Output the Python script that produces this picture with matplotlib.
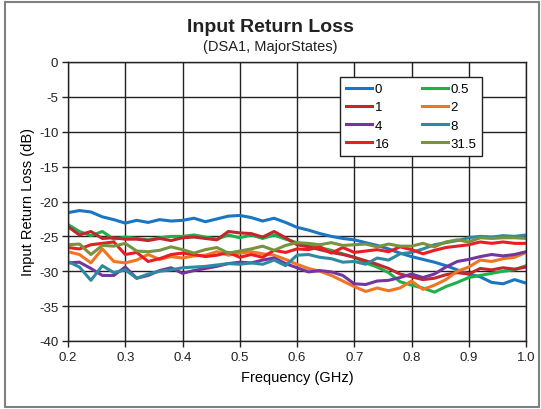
import matplotlib
matplotlib.use("Agg")
import matplotlib.pyplot as plt
from matplotlib.patches import Rectangle

plt.rcParams["font.family"] = ["Liberation Sans", "DejaVu Sans"]
plt.rcParams["axes.unicode_minus"] = False

freq = [0.20, 0.22, 0.24, 0.26, 0.28, 0.30, 0.32, 0.34, 0.36, 0.38,
        0.40, 0.42, 0.44, 0.46, 0.48, 0.50, 0.52, 0.54, 0.56, 0.58,
        0.60, 0.62, 0.64, 0.66, 0.68, 0.70, 0.72, 0.74, 0.76, 0.78,
        0.80, 0.82, 0.84, 0.86, 0.88, 0.90, 0.92, 0.94, 0.96, 0.98, 1.00]

s_0 = [-21.6, -21.3, -21.5, -22.2, -22.6, -23.1, -22.7, -23.0, -22.6, -22.8,
       -22.7, -22.4, -22.9, -22.5, -22.1, -22.0, -22.3, -22.8, -22.4, -23.0,
       -23.7, -24.1, -24.6, -25.0, -25.3, -25.5, -25.9, -26.3, -26.8, -27.4,
       -27.9, -28.3, -28.7, -29.2, -29.8, -30.4, -30.8, -31.6, -31.8, -31.2, -31.7]
s_05 = [-23.3, -24.3, -24.9, -24.3, -25.4, -25.1, -25.3, -25.5, -25.2, -25.0,
        -25.0, -24.8, -25.1, -25.4, -24.8, -25.2, -24.8, -25.3, -24.8, -25.4,
        -25.9, -26.3, -26.6, -27.0, -27.5, -28.0, -28.8, -29.4, -30.2, -31.5,
        -32.0, -32.4, -33.0, -32.2, -31.6, -30.9, -30.6, -30.3, -30.0, -29.8, -29.2]
s_1 = [-23.6, -24.8, -24.3, -25.3, -25.2, -25.4, -25.4, -25.6, -25.3, -25.6,
       -25.2, -25.1, -25.3, -25.5, -24.3, -24.5, -24.6, -25.1, -24.3, -25.2,
       -26.2, -26.5, -26.9, -27.3, -27.6, -28.0, -28.5, -29.0, -29.6, -30.4,
       -30.8, -31.2, -31.0, -30.5, -30.2, -30.4, -29.6, -29.8, -29.5, -29.7, -29.4]
s_2 = [-27.2, -27.6, -28.8, -26.8, -28.6, -28.8, -28.4, -27.6, -28.3, -27.9,
       -28.1, -27.8, -27.7, -27.2, -27.7, -27.4, -27.2, -27.5, -27.7, -28.3,
       -29.0, -29.6, -30.0, -30.6, -31.4, -32.2, -32.9, -32.4, -32.8, -32.4,
       -31.4, -32.6, -32.0, -31.2, -30.0, -29.4, -28.4, -28.6, -28.2, -28.0, -27.3]
s_4 = [-28.8, -28.7, -29.6, -30.6, -30.6, -29.4, -31.0, -30.6, -29.9, -29.5,
       -30.3, -29.9, -29.6, -29.3, -28.9, -28.7, -28.8, -28.4, -28.1, -28.9,
       -29.5, -30.1, -29.9, -30.1, -30.6, -31.8, -31.9, -31.4, -31.3, -30.9,
       -30.4, -30.9, -30.4, -29.4, -28.6, -28.3, -27.9, -27.6, -27.8, -27.6, -27.2]
s_8 = [-28.6, -29.4, -31.3, -29.2, -30.2, -29.8, -31.0, -30.4, -30.0, -29.8,
       -29.5, -29.4, -29.3, -29.1, -28.9, -29.0, -28.8, -29.0, -28.4, -29.2,
       -27.7, -27.6, -28.0, -28.2, -28.7, -28.6, -29.0, -28.1, -28.4, -27.5,
       -27.3, -26.8, -26.2, -25.9, -25.6, -25.2, -25.0, -25.1, -24.9, -25.0, -24.8]
s_16 = [-26.6, -26.8, -26.2, -26.0, -25.8, -27.6, -27.3, -28.6, -28.2, -27.6,
        -27.4, -27.6, -27.9, -27.7, -27.3, -28.0, -27.6, -28.0, -27.0, -27.3,
        -26.8, -26.9, -26.5, -27.4, -26.6, -27.3, -27.1, -26.9, -27.2, -26.5,
        -26.9, -27.5, -27.0, -26.6, -26.4, -26.2, -25.8, -26.0, -25.8, -26.0, -26.0]
s_315 = [-26.2, -26.1, -27.6, -26.3, -26.4, -26.0, -27.1, -27.2, -27.0, -26.5,
         -26.9, -27.4, -26.9, -26.6, -27.4, -27.1, -26.8, -26.4, -27.0, -26.3,
         -25.9, -26.0, -26.2, -25.9, -26.3, -26.2, -26.1, -26.5, -26.1, -26.4,
         -26.4, -26.0, -26.5, -25.8, -25.5, -25.8, -25.2, -25.3, -25.2, -25.2, -25.3]

labels = ["0", "0.5", "1", "2", "4", "8", "16", "31.5"]
series = [s_0, s_05, s_1, s_2, s_4, s_8, s_16, s_315]
colors = ["#1a75c2", "#1fb04b", "#c1272d", "#ee7624", "#7435a0",
          "#2d8aa3", "#ec1c24", "#77933c"]

fig = plt.figure(figsize=(5.41, 4.10), dpi=100)
ax = fig.add_axes([68 / 541, 1 - 342 / 410, (526 - 68) / 541, (342 - 63) / 410])

handles = []
for ys, c, lab in zip(series, colors, labels):
    h, = ax.plot(freq, ys, color=c, lw=2.2, label=lab)
    handles.append(h)

ax.set_xlim(0.2, 1.0)
ax.set_ylim(-40, 0)
ax.set_xticks([0.2, 0.3, 0.4, 0.5, 0.6, 0.7, 0.8, 0.9, 1.0])
ax.set_xticklabels(["0.2", "0.3", "0.4", "0.5", "0.6", "0.7", "0.8", "0.9", "1.0"])
ax.set_yticks(range(-40, 1, 5))
ax.grid(True, color="#222222", lw=1.0)
ax.set_axisbelow(True)
for sp in ax.spines.values():
    sp.set_color("#222222")
    sp.set_linewidth(1.0)
ax.tick_params(axis="both", direction="out", length=4, width=1, color="#222222",
               labelsize=9.5, labelcolor="#222222", pad=3)
ax.set_xlabel("Frequency (GHz)", fontsize=10.5, labelpad=5)
ax.set_ylabel("Input Return Loss (dB)", fontsize=10.5, labelpad=3)

# legend is filled row by row in the original: reorder for matplotlib's column fill
order = [0, 2, 4, 6, 1, 3, 5, 7]
leg = ax.legend([handles[i] for i in order], [labels[i] for i in order],
                ncol=2, loc="upper left", bbox_to_anchor=(272 / 458, 1 - 15 / 279),
                fontsize=9.5, frameon=True, fancybox=False, handlelength=2.0,
                handletextpad=0.2, columnspacing=2.4, labelspacing=0.45,
                borderpad=0.45, borderaxespad=0)
leg.get_frame().set_edgecolor("#222222")
leg.get_frame().set_linewidth(1.0)
leg.get_frame().set_alpha(1)

fig.text(0.5, 1 - 32 / 410, "Input Return Loss", ha="center", va="baseline",
         fontsize=14, fontweight="bold", color="#222222")
fig.text(0.5, 1 - 51 / 410, "(DSA1, MajorStates)", ha="center", va="baseline",
         fontsize=10.5, color="#222222")

fig.patches.append(Rectangle((5 / 541, 2 / 410), 534 / 541, 405 / 410,
                             transform=fig.transFigure, fill=False,
                             edgecolor="#808080", lw=1.5))

fig.savefig("out.png", dpi=100)
